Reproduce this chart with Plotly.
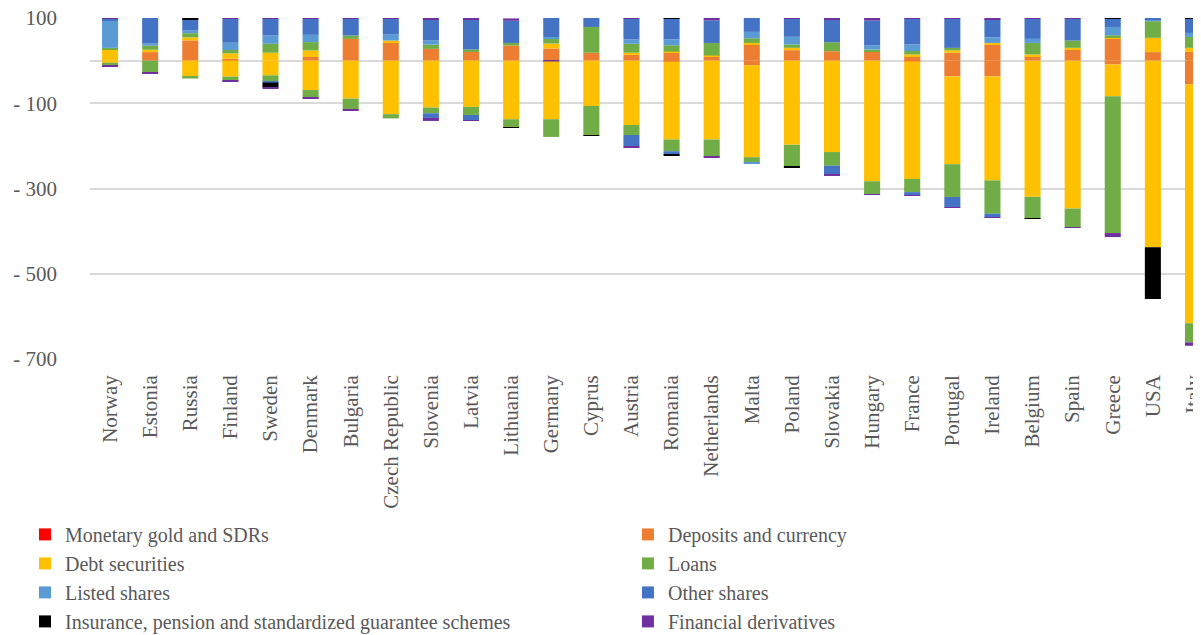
import plotly.graph_objects as go

countries = ["Norway", "Estonia", "Russia", "Finland", "Sweden", "Denmark", "Bulgaria",
             "Czech Republic", "Slovenia", "Latvia", "Lithuania", "Germany", "Cyprus",
             "Austria", "Romania", "Netherlands", "Malta", "Poland", "Slovakia", "Hungary",
             "France", "Portugal", "Ireland", "Belgium", "Spain", "Greece", "USA", "Italy"]

series_names = ["Monetary gold and SDRs", "Deposits and currency", "Debt securities", "Loans",
                "Listed shares", "Other shares",
                "Insurance, pension and standardized guarantee schemes", "Financial derivatives"]
colors = ["#FF0000", "#ED7D31", "#FFC000", "#70AD47", "#5B9BD5", "#4472C4", "#000000", "#7030A0"]

# assets (stacked above zero)
gold_a = [0] * 28
dep_a = [0, 20, 47.5, 4.5, 0, 8.5, 51, 43, 27.5, 22, 35.5, 28.5, 18.5, 14.5,
         18.5, 9, 37.5, 24.5, 22, 22, 10.5, 18.5, 37.5, 10.5, 26, 51, 20, 20.5]
debt_a = [26, 5.5, 7, 12.5, 18.5, 15.5, 0, 4, 0, 0, 0, 11.5, 0, 4,
          2.5, 3, 4, 5.5, 0, 0, 4, 5.5, 4, 4, 4, 4, 33.5, 9.5]
loans_a = [4, 9.5, 10, 8, 21, 19.5, 8, 0, 10, 4, 6, 11, 60.5, 21,
           15, 29.5, 11, 8, 21, 4, 8, 6, 0, 27, 17, 4.5, 39, 25.5]
listed_a = [64.5, 6, 6, 17, 19.5, 17, 0, 14, 9.5, 0, 0, 4.5, 0, 10,
            14, 0, 15, 18, 0, 9.5, 15.5, 0, 13, 9.5, 0, 19.5, 5, 9.5]
other_a = [4, 59, 27, 56, 39.5, 37.5, 39.5, 37.5, 50.5, 71.5, 52, 45, 21, 49,
           48.5, 53, 32.5, 42.5, 54.5, 58.5, 60, 68, 43, 47, 51, 19.5, 2, 33.5]
ins_a = [0, 0, 2.5, 0, 0, 0, 0, 0, 0, 0, 0, 0, 0, 0,
         2.5, 0, 0, 0, 0, 0, 0, 0, 0, 0, 0, 2.5, 0, 2.5]
der_a = [2.5, 0, 0, 2.5, 1.5, 2.5, 2.5, 2.5, 2.5, 3, 5.5, -2, 0, 2.5,
         0, 5.5, 0, 1.5, 2.5, 6, 2.5, 2.5, 2.5, 2.5, 2.5, 0, 0, 0]

# liabilities (stacked below zero)
gold_l = [0] * 28
dep_l = [0, 0, 0, 0, 0, 0, 0, 0, 0, 0, 0, 0, 0, 0,
         -2.5, 0, -11, 0, 0, 0, -2, -37, -37, 0, 0, -9, 0, -56]
debt_l = [-5, 0, -37.5, -37.5, -34.5, -69, -89, -125.5, -110, -108.5, -137.5, -135.5, -106.5, -151,
          -182.5, -185, -215.5, -197.5, -214.5, -283, -275.5, -206, -244, -319.5, -347, -74.5, -438, -560]
loans_l = [-5.5, -28.5, -4.5, -10, -14, -18, -25, -10, -13.5, -19, -19, -41.5, -68, -23.5,
           -27.5, -41, -13.5, -52, -32, -30, -31, -77, -78, -51, -44, -321, 0, -45]
listed_l = [0, 0, 0, 0, 0, 0, 0, 0, 0, 0, 0, 0, 0, 0,
            0, 0, -1.5, 0, 0, 0, 0, 0, 0, 0, 0, 0, 0, 0]
other_l = [0, 0, 0, 0, -3, 0, 0, 0, -11, -12.5, 0, 0, 0, -26.5,
           -8, 0, 0, 0, -21, 0, -8, -24.5, -8.5, 0, 0, 0, 0, 0]
ins_l = [0, 0, 0, 0, -11.5, 0, 0, 0, 0, 0, -1.5, 0, -1, 0,
         -1, 0, 0, -1, 0, 0, 0, 0, 0, -1, 0, 0, -121.5, 0]
der_l = [-2.5, -2.5, 0, -2.5, -2.5, -2.5, -2.5, 0, -7, -1.5, 0, 0, 0, -2.5,
         0, -1, 0, 0, -3, -1.5, -1, -1, -1, 0, -1.5, -9.5, 0, -8]

assets = [gold_a, dep_a, debt_a, loans_a, listed_a, other_a, ins_a, der_a]
liabs = [gold_l, dep_l, debt_l, loans_l, listed_l, other_l, ins_l, der_l]

# legend columns as in the original (left: 0,2,4,6 ; right: 1,3,5,7)
legend_of = ["legend", "legend2", "legend", "legend2", "legend", "legend2", "legend", "legend2"]

FONT = "Liberation Serif"
GREY = "#595959"

fig = go.Figure()
for i, name in enumerate(series_names):
    fig.add_trace(go.Bar(x=countries, y=assets[i], name=name, marker_color=colors[i],
                         marker_line_width=0, legend=legend_of[i]))
for i, name in enumerate(series_names):
    fig.add_trace(go.Bar(x=countries, y=liabs[i], name=name, marker_color=colors[i],
                         marker_line_width=0, showlegend=False))

# page body has an 8px margin, so the figure is 8px smaller than the window
fig.update_layout(
    width=1193, height=627,
    barmode="relative", bargap=0.6,
    plot_bgcolor="white", paper_bgcolor="white",
    margin=dict(l=82, r=0, t=10, b=276, autoexpand=False),
    font=dict(family=FONT, color=GREY, size=20),
    legend=dict(x=-0.0585, xanchor="left", y=-0.4572, yanchor="top",
                orientation="v", font=dict(family=FONT, size=20, color=GREY),
                bgcolor="rgba(0,0,0,0)", traceorder="normal"),
    legend2=dict(x=0.4842, xanchor="left", y=-0.4572, yanchor="top",
                 orientation="v", font=dict(family=FONT, size=20, color=GREY),
                 bgcolor="rgba(0,0,0,0)", traceorder="normal"),
)
fig.update_xaxes(range=[-0.5, 27.2], tickangle=-90, showgrid=False, showline=False,
                 ticks="", ticklabelstandoff=11, ticklabeloverflow="allow",
                 tickfont=dict(family=FONT, size=21, color=GREY))
fig.update_yaxes(range=[-700, 100], tickvals=[100, -100, -300, -500, -700],
                 ticktext=["100", "- 100", "- 300", "- 500", "- 700"],
                 showgrid=True, gridcolor="#D9D9D9", gridwidth=2,
                 zeroline=True, zerolinecolor="#D9D9D9", zerolinewidth=2,
                 showline=False, ticks="", ticklabelstandoff=32, ticklabeloverflow="allow",
                 tickfont=dict(family=FONT, size=21, color=GREY))

fig.write_html("out.html")
